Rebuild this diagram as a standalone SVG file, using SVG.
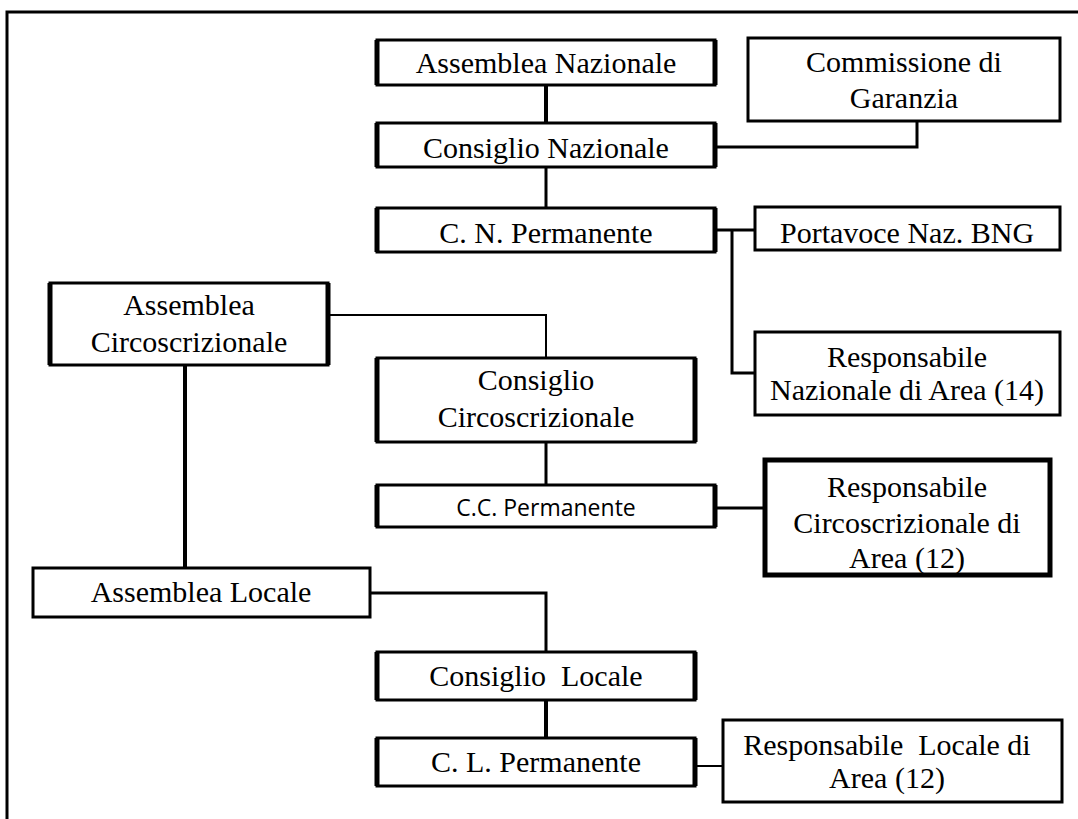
<svg xmlns="http://www.w3.org/2000/svg" width="1078" height="819" viewBox="0 0 1078 819">
<style>
.box{fill:#fff;stroke:#000;stroke-width:3}
.thick{stroke-width:5}
.v{fill:none;stroke:#000;stroke-width:5}
.t{font-family:"Liberation Serif","Times New Roman",serif;font-size:30px;fill:#000;text-anchor:middle;white-space:pre}
.s{font-family:"Open Sans","Liberation Sans",sans-serif;font-size:23px;fill:#000;text-anchor:middle}
.c{fill:none;stroke:#000;stroke-width:3}
.c4{fill:none;stroke:#000;stroke-width:4}
.c2{fill:none;stroke:#000;stroke-width:2}
</style>
<rect width="1078" height="819" fill="#fff"/>
<path d="M7,819 V12 H1078" fill="none" stroke="#000" stroke-width="3"/>
<g id="connectors">
<path class="c4" d="M546,85 V123"/>
<path class="c" d="M546,167 V208"/>
<path class="c" d="M715,147 H917 V121"/>
<path class="c" d="M715,230 H755"/>
<path class="c" d="M732,230 V373 H755"/>
<path class="c2" d="M328,315 H546 V358"/>
<path class="c" d="M546,442 V485"/>
<path class="c" d="M715,508 H765"/>
<path class="c4" d="M185,365 V568"/>
<path class="c" d="M370,593 H546 V652"/>
<path class="c4" d="M546,700 V738"/>
<path class="c2" d="M695,766 H723"/>
</g>
<g id="assemblea-nazionale"><rect class="box" x="377" y="40" width="338" height="45"/><path class="v" d="M377,40 V85 M715,40 V85"/><text class="t" x="546" y="73">Assemblea Nazionale</text></g>
<g id="commissione-garanzia"><rect class="box" x="748" y="38" width="312" height="83"/><text class="t" x="904" y="72">Commissione di</text><text class="t" x="904" y="108">Garanzia</text></g>
<g id="consiglio-nazionale"><rect class="box" x="377" y="123" width="338" height="44"/><path class="v" d="M377,123 V167 M715,123 V167"/><text class="t" x="546" y="158">Consiglio Nazionale</text></g>
<g id="cn-permanente"><rect class="box" x="377" y="208" width="338" height="44"/><path class="v" d="M377,208 V252 M715,208 V252"/><text class="t" x="546" y="243">C. N. Permanente</text></g>
<g id="portavoce"><rect class="box" x="755" y="207" width="305" height="43"/><text class="t" x="907" y="243">Portavoce Naz. BNG</text></g>
<g id="resp-nazionale"><rect class="box" x="755" y="332" width="305" height="83"/><text class="t" x="907" y="367">Responsabile</text><text class="t" x="907" y="400">Nazionale di Area (14)</text></g>
<g id="assemblea-circ"><rect class="box" x="50" y="283" width="278" height="82"/><path class="v" d="M50,283 V365 M328,283 V365"/><text class="t" x="189" y="315">Assemblea</text><text class="t" x="189" y="352">Circoscrizionale</text></g>
<g id="consiglio-circ"><rect class="box" x="377" y="358" width="318" height="84"/><path class="v" d="M377,358 V442 M695,358 V442"/><text class="t" x="536" y="390">Consiglio</text><text class="t" x="536" y="427">Circoscrizionale</text></g>
<g id="cc-permanente"><rect class="box" x="377" y="485" width="338" height="42"/><path class="v" d="M377,485 V527 M715,485 V527"/><text class="s" x="546" y="516">C.C. Permanente</text></g>
<g id="resp-circ"><rect class="box thick" x="765" y="460" width="285" height="115"/><text class="t" x="907" y="497">Responsabile</text><text class="t" x="907" y="533">Circoscrizionale di</text><text class="t" x="907" y="568">Area (12)</text></g>
<g id="assemblea-locale"><rect class="box" x="33" y="568" width="337" height="49"/><text class="t" x="201" y="602">Assemblea Locale</text></g>
<g id="consiglio-locale"><rect class="box" x="377" y="652" width="318" height="48"/><path class="v" d="M377,652 V700 M695,652 V700"/><text class="t" x="536" y="686">Consiglio  Locale</text></g>
<g id="cl-permanente"><rect class="box" x="377" y="738" width="318" height="48"/><path class="v" d="M377,738 V786 M695,738 V786"/><text class="t" x="536" y="772">C. L. Permanente</text></g>
<g id="resp-locale"><rect class="box" x="723" y="720" width="339" height="82"/><text class="t" x="887" y="755">Responsabile  Locale di</text><text class="t" x="887" y="788">Area (12)</text></g>
</svg>
